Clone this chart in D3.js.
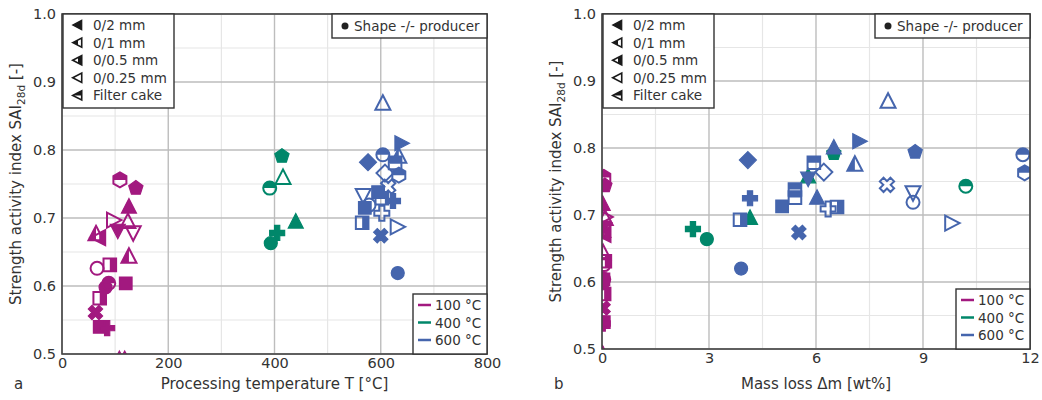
<!DOCTYPE html>
<html>
<head>
<meta charset="utf-8">
<script src="https://cdn.jsdelivr.net/npm/d3@7"></script>
<style>
  body { margin: 0; background: #fff; }
  svg { font-family: "DejaVu Sans", sans-serif; }
</style>
</head>
<body>
<div id="chart"></div>
<script>
// --- Data ---
// [temperature °C, mass loss wt%, SAI, shape, fill]
const samples100 = [
  [109, 0.05, 0.756, "hexagon", "top"],
  [139, 0.08, 0.744, "pentagon", "full"],
  [126, 0.02, 0.716, "triUp", "full"],
  [96, 0.06, 0.697, "triRight", "none"],
  [105, 0.03, 0.682, "triDown", "full"],
  [124, 0.09, 0.694, "triUp", "none"],
  [134, 0.05, 0.679, "triDown", "none"],
  [64, 0.02, 0.676, "triUp", "left"],
  [70, 0.07, 0.671, "triLeft", "right"],
  [126, 0.03, 0.643, "triUp", "left"],
  [66, 0.06, 0.626, "circle", "none"],
  [90, 0.08, 0.631, "square", "right"],
  [82, 0.02, 0.598, "circle", "full"],
  [88, 0.05, 0.604, "circle", "top"],
  [120, 0.04, 0.604, "square", "full"],
  [71, 0.06, 0.582, "square", "right"],
  [63, 0.03, 0.561, "x", "full"],
  [71, 0.05, 0.540, "square", "full"],
  [85, 0.02, 0.538, "plus", "full"],
  [108, 0.01, 0.492, "triUp", "full"],
  [118, 0.02, 0.492, "triUp", "full"]
];

// [temperature °C, SAI, shape, fill]
const temp400 = [
  [414, 0.791, "pentagon", "full"],
  [391, 0.744, "circle", "top"],
  [416, 0.759, "triUp", "none"],
  [440, 0.694, "triUp", "full"],
  [405, 0.678, "plus", "full"],
  [393, 0.663, "circle", "full"]
];

const temp600 = [
  [604, 0.868, "triUp", "none"],
  [638, 0.810, "triRight", "full"],
  [576, 0.782, "diamond", "full"],
  [604, 0.793, "circle", "top"],
  [634, 0.790, "triUp", "left"],
  [627, 0.781, "square", "top"],
  [608, 0.766, "diamond", "none"],
  [634, 0.763, "hexagon", "top"],
  [614, 0.746, "x", "none"],
  [567, 0.734, "triDown", "none"],
  [595, 0.738, "square", "full"],
  [602, 0.729, "square", "top"],
  [578, 0.719, "circle", "none"],
  [623, 0.725, "plus", "full"],
  [570, 0.715, "square", "full"],
  [602, 0.707, "plus", "none"],
  [565, 0.693, "square", "right"],
  [630, 0.687, "triRight", "none"],
  [600, 0.674, "x", "full"],
  [632, 0.619, "circle", "full"]
];

// [mass loss wt%, SAI, shape, fill]
const loss400 = [
  [2.55, 0.679, "plus", "full"],
  [2.94, 0.664, "circle", "full"],
  [4.15, 0.695, "triUp", "full"],
  [6.50, 0.792, "pentagon", "full"],
  [5.78, 0.757, "triUp", "full"],
  [10.2, 0.743, "circle", "top"]
];

const loss600 = [
  [4.09, 0.782, "diamond", "full"],
  [4.15, 0.725, "plus", "full"],
  [3.87, 0.693, "square", "right"],
  [5.52, 0.674, "x", "full"],
  [5.05, 0.713, "square", "full"],
  [5.41, 0.738, "square", "top"],
  [5.41, 0.726, "square", "top"],
  [5.94, 0.778, "square", "top"],
  [6.22, 0.764, "diamond", "none"],
  [5.78, 0.755, "triDown", "full"],
  [6.03, 0.725, "triUp", "full"],
  [6.34, 0.709, "plus", "none"],
  [6.59, 0.712, "square", "right"],
  [6.50, 0.800, "triUp", "full"],
  [7.20, 0.810, "triRight", "full"],
  [7.09, 0.775, "triUp", "left"],
  [8.02, 0.869, "triUp", "none"],
  [8.78, 0.794, "pentagon", "full"],
  [7.99, 0.745, "x", "none"],
  [8.72, 0.734, "triDown", "none"],
  [8.72, 0.719, "circle", "none"],
  [9.79, 0.688, "triRight", "none"],
  [11.8, 0.790, "circle", "top"],
  [11.85, 0.763, "hexagon", "top"],
  [3.90, 0.620, "circle", "full"]
];

const fractionLabels = ["0/2 mm", "0/1 mm", "0/0.5 mm", "0/0.25 mm", "Filter cake"];
const fractionFills = ["full", "left", "right", "none", "top"];
const tempLabels = ["100 °C", "400 °C", "600 °C"];
const tempKeys = [100, 400, 600];
const yTicks = [0.5, 0.6, 0.7, 0.8, 0.9, 1.0];

const colors = { 100: "#a2197f", 400: "#00876a", 600: "#4565ad" };

// --- Setup ---
const svg = d3.select("#chart").append("svg")
  .attr("width", 1042)
  .attr("height", 400);

const defs = svg.append("defs");
const halves = {
  top: [-14, -14, 28, 14],
  bottom: [-14, 0, 28, 14],
  left: [-14, -14, 14, 28],
  right: [0, -14, 14, 28]
};
Object.entries(halves).forEach(([k, r]) => {
  defs.append("clipPath").attr("id", "half-" + k)
    .append("rect").attr("x", r[0]).attr("y", r[1]).attr("width", r[2]).attr("height", r[3]);
});

// marker outlines centred on 0,0
function poly(pts) { return "M" + pts.map(p => p.join(",")).join("L") + "Z"; }
function regular(n, r, rot) {
  return poly(d3.range(n).map(i => {
    const a = rot + i * 2 * Math.PI / n;
    return [r * Math.sin(a), -r * Math.cos(a)];
  }));
}
function shapePath(s) {
  const t = 7.5;
  switch (s) {
    case "circle": return "M6.5,0A6.5,6.5 0 1 1 -6.5,0A6.5,6.5 0 1 1 6.5,0Z";
    case "square": return poly([[-6.3, -6.3], [6.3, -6.3], [6.3, 6.3], [-6.3, 6.3]]);
    case "diamond": return poly([[0, -8.5], [8.5, 0], [0, 8.5], [-8.5, 0]]);
    case "triUp": return poly([[0, -t - 1], [t, t - 1.5], [-t, t - 1.5]]);
    case "triDown": return poly([[0, t + 1], [t, -t + 1.5], [-t, -t + 1.5]]);
    case "triLeft": return poly([[-t - 1, 0], [t - 1.5, -t], [t - 1.5, t]]);
    case "triRight": return poly([[t + 1, 0], [-t + 1.5, -t], [-t + 1.5, t]]);
    case "hexagon": return regular(6, 7.5, 0);
    case "pentagon": return regular(5, 7.5, 0);
    case "plus": {
      const a = 2.6, b = 7.5;
      return poly([[-a, -b], [a, -b], [a, -a], [b, -a], [b, a], [a, a], [a, b], [-a, b], [-a, a], [-b, a], [-b, -a], [-a, -a]]);
    }
    case "x": {
      const a = 2.6, b = 7.5;
      const p = [[-a, -b], [a, -b], [a, -a], [b, -a], [b, a], [a, a], [a, b], [-a, b], [-a, a], [-b, a], [-b, -a], [-a, -a]];
      const c = Math.SQRT1_2;
      return poly(p.map(([x, y]) => [(x - y) * c, (x + y) * c]));
    }
  }
}

function drawMarker(parent, x, y, shape, fill, color, scale = 1) {
  const g = parent.append("g").attr("transform", `translate(${x},${y}) scale(${scale})`);
  const d = shapePath(shape);
  const sw = 1 / scale;
  if (fill === "full") {
    g.append("path").attr("d", d).attr("fill", color).attr("stroke", color).attr("stroke-width", 1.2 * sw);
  } else {
    if (fill !== "none") {
      g.append("path").attr("d", d).attr("fill", color).attr("clip-path", `url(#half-${fill})`);
    }
    g.append("path").attr("d", d).attr("fill", "none").attr("stroke", color).attr("stroke-width", 2 * Math.min(sw, 1.3));
  }
}

function drawPanel(cfg) {
  const x = d3.scaleLinear().domain(cfg.xDomain).range([cfg.left, cfg.right]);
  const y = d3.scaleLinear().domain([0.5, 1.0]).range([cfg.bottom, cfg.top]);
  const p = svg.append("g");

  // Grid
  const minorX = d3.range(cfg.xDomain[0] + cfg.xStep / 2, cfg.xDomain[1], cfg.xStep);
  const minorY = d3.range(0.55, 1.0, 0.1);
  p.append("g").selectAll("line").data(minorX).join("line")
    .attr("x1", d => x(d)).attr("x2", d => x(d)).attr("y1", cfg.top).attr("y2", cfg.bottom)
    .attr("stroke", "#e6e6e6").attr("stroke-width", 1.2);
  p.append("g").selectAll("line").data(minorY).join("line")
    .attr("y1", d => y(d)).attr("y2", d => y(d)).attr("x1", cfg.left).attr("x2", cfg.right)
    .attr("stroke", "#e6e6e6").attr("stroke-width", 1.2);
  p.append("g").selectAll("line").data(cfg.xTicks).join("line")
    .attr("x1", d => x(d)).attr("x2", d => x(d)).attr("y1", cfg.top).attr("y2", cfg.bottom)
    .attr("stroke", "#bdbdbd").attr("stroke-width", 1.4);
  p.append("g").selectAll("line").data(yTicks).join("line")
    .attr("y1", d => y(d)).attr("y2", d => y(d)).attr("x1", cfg.left).attr("x2", cfg.right)
    .attr("stroke", "#bdbdbd").attr("stroke-width", 1.4);

  // Markers
  defs.append("clipPath").attr("id", cfg.id + "-clip")
    .append("rect").attr("x", cfg.left).attr("y", cfg.top)
    .attr("width", cfg.right - cfg.left).attr("height", cfg.bottom - cfg.top);
  const mk = p.append("g").attr("clip-path", `url(#${cfg.id}-clip)`);
  cfg.series.forEach(s => {
    s.data.forEach(d => drawMarker(mk, x(s.xv(d)), y(s.yv(d)), s.shape(d), s.fill(d), colors[s.key]));
  });

  // Frame
  p.append("rect").attr("x", cfg.left).attr("y", cfg.top)
    .attr("width", cfg.right - cfg.left).attr("height", cfg.bottom - cfg.top)
    .attr("fill", "none").attr("stroke", "#444").attr("stroke-width", 1.6);

  // Axes (labels only)
  const xa = p.append("g").attr("transform", `translate(0,${cfg.bottom})`)
    .call(d3.axisBottom(x).tickValues(cfg.xTicks).tickSize(0).tickPadding(4).tickFormat(d3.format("d")));
  const ya = p.append("g").attr("transform", `translate(${cfg.left},0)`)
    .call(d3.axisLeft(y).tickValues(yTicks).tickSize(0).tickPadding(6).tickFormat(d3.format(".1f")));
  [xa, ya].forEach(a => {
    a.select(".domain").remove();
    a.selectAll("text").attr("font-size", 14.5).attr("fill", "#333").attr("font-family", "DejaVu Sans");
  });

  // Axis titles
  p.append("text")
    .attr("x", (cfg.left + cfg.right) / 2).attr("y", 389)
    .attr("text-anchor", "middle").attr("font-size", 15).attr("fill", "#333")
    .text(cfg.xLabel);
  p.append("text")
    .attr("x", cfg.left - 48).attr("y", 389)
    .attr("font-size", 15).attr("fill", "#333")
    .text(cfg.letter);
  const yl = p.append("text")
    .attr("transform", `translate(${cfg.left - 41},${(cfg.top + cfg.bottom) / 2}) rotate(-90)`)
    .attr("text-anchor", "middle").attr("font-size", 15).attr("fill", "#333");
  yl.append("tspan").text("Strength activity index SAI");
  yl.append("tspan").attr("font-size", 10.5).attr("dy", 4).text("28d");
  yl.append("tspan").attr("dy", -4).text(" [-]");

  // Legend: fractions
  const l1 = p.append("g").attr("transform", `translate(${cfg.left + 1},${cfg.top})`);
  l1.append("rect").attr("width", 111).attr("height", 94)
    .attr("fill", "#fff").attr("stroke", "#333").attr("stroke-width", 1.4);
  fractionLabels.forEach((lab, i) => {
    const row = l1.append("g").attr("transform", `translate(0,${11 + i * 17.6})`);
    drawMarker(row, 15, 0, "triLeft", fractionFills[i], "#1a1a1a", 0.62);
    row.append("text").attr("x", 30).attr("y", 5).attr("font-size", 13.5).attr("fill", "#333").text(lab);
  });

  // Legend: shape
  const l2 = p.append("g").attr("transform", `translate(${cfg.right - 155},${cfg.top})`);
  l2.append("rect").attr("width", 155).attr("height", 24)
    .attr("fill", "#fff").attr("stroke", "#333").attr("stroke-width", 1.4);
  l2.append("circle").attr("cx", 13).attr("cy", 12).attr("r", 3.5).attr("fill", "#222");
  l2.append("text").attr("x", 22).attr("y", 17).attr("font-size", 13.5).attr("fill", "#333").text("Shape -/- producer");

  // Legend: temperature
  const l3 = p.append("g").attr("transform", `translate(${cfg.right - 74},${cfg.bottom - 60})`);
  l3.append("rect").attr("width", 74).attr("height", 60)
    .attr("fill", "#fff").attr("stroke", "#333").attr("stroke-width", 1.4);
  tempLabels.forEach((lab, i) => {
    const yy = 11 + i * 17.5;
    l3.append("line").attr("x1", 5).attr("x2", 18).attr("y1", yy).attr("y2", yy)
      .attr("stroke", colors[tempKeys[i]]).attr("stroke-width", 2.5);
    l3.append("text").attr("x", 22).attr("y", yy + 5).attr("font-size", 13.5).attr("fill", "#333").text(lab);
  });
}

const pick = {
  shape: d => d[d.length - 2],
  fill: d => d[d.length - 1]
};

drawPanel({
  id: "a", letter: "a", left: 62, right: 487, top: 14, bottom: 354,
  xDomain: [0, 800], xStep: 200, xTicks: [0, 200, 400, 600, 800],
  xLabel: "Processing temperature T [°C]",
  series: [
    { key: 100, data: samples100, xv: d => d[0], yv: d => d[2], ...pick },
    { key: 400, data: temp400, xv: d => d[0], yv: d => d[1], ...pick },
    { key: 600, data: temp600, xv: d => d[0], yv: d => d[1], ...pick }
  ]
});

drawPanel({
  id: "b", letter: "b", left: 602, right: 1030, top: 14, bottom: 349,
  xDomain: [0, 12], xStep: 3, xTicks: [0, 3, 6, 9, 12],
  xLabel: "Mass loss Δm [wt%]",
  series: [
    { key: 100, data: samples100, xv: d => d[1], yv: d => d[2], ...pick },
    { key: 400, data: loss400, xv: d => d[0], yv: d => d[1], ...pick },
    { key: 600, data: loss600, xv: d => d[0], yv: d => d[1], ...pick }
  ]
});
</script>
</body>
</html>
